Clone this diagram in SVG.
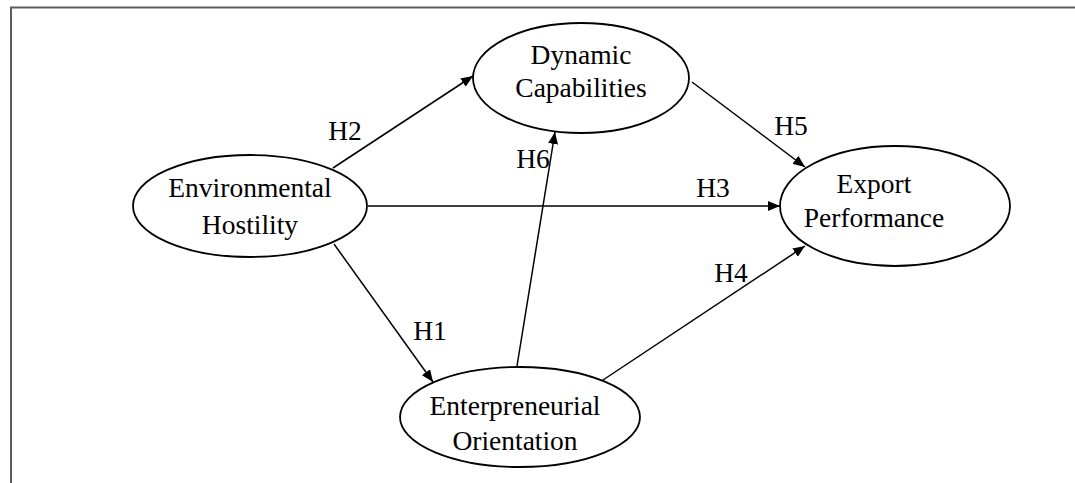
<svg xmlns="http://www.w3.org/2000/svg" width="1075" height="483" viewBox="0 0 1075 483">
  <style>
    .node ellipse { fill: #ffffff; stroke: #000000; stroke-width: 1.8; }
    .label { font-family: "Liberation Serif", "Times New Roman", serif; font-size: 27.5px; fill: #000000; text-anchor: middle; }
    .edge { stroke: #000000; stroke-width: 1.5; fill: none; marker-end: url(#arrow); }
    .frame { stroke: #5c5c5c; stroke-width: 2; fill: none; }
  </style>
  <defs>
    <marker id="arrow" viewBox="0 0 12 10" refX="12" refY="5" markerWidth="12" markerHeight="10" markerUnits="userSpaceOnUse" orient="auto">
      <path d="M0,0 L12,5 L0,10 Z" fill="#000000"/>
    </marker>
  </defs>
  <rect width="1075" height="483" fill="#ffffff"/>

  <!-- open frame: top and left rules only -->
  <path class="frame" d="M11,483 L11,7.5 L1075,7.5"/>

  <!-- connectors -->
  <g id="connectors">
    <line class="edge" x1="333" y1="168" x2="473" y2="76"/>
    <line class="edge" x1="368" y1="206" x2="780" y2="206"/>
    <line class="edge" x1="334" y1="244" x2="433" y2="382"/>
    <line class="edge" x1="517" y1="366" x2="555" y2="132"/>
    <line class="edge" x1="600" y1="382" x2="805" y2="246"/>
    <line class="edge" x1="692" y1="82" x2="805" y2="167"/>
    <text class="label" x="345" y="140">H2</text>
    <text class="label" x="713" y="197">H3</text>
    <text class="label" x="430" y="340">H1</text>
    <text class="label" x="533" y="168">H6</text>
    <text class="label" x="731" y="282">H4</text>
    <text class="label" x="791" y="135">H5</text>
  </g>

  <g id="node-environmental-hostility" class="node">
    <ellipse cx="250" cy="206" rx="117" ry="51"/>
    <text class="label" x="250" y="197">Environmental</text>
    <text class="label" x="250" y="234">Hostility</text>
  </g>

  <g id="node-dynamic-capabilities" class="node">
    <ellipse cx="581" cy="78" rx="108" ry="55"/>
    <text class="label" x="581" y="64">Dynamic</text>
    <text class="label" x="581" y="97">Capabilities</text>
  </g>

  <g id="node-export-performance" class="node">
    <ellipse cx="895" cy="206" rx="115" ry="60"/>
    <text class="label" x="874" y="193">Export</text>
    <text class="label" x="874" y="227">Performance</text>
  </g>

  <g id="node-enterpreneurial-orientation" class="node">
    <ellipse cx="520" cy="417" rx="120" ry="50"/>
    <text class="label" x="515" y="415">Enterpreneurial</text>
    <text class="label" x="515" y="450">Orientation</text>
  </g>
</svg>
